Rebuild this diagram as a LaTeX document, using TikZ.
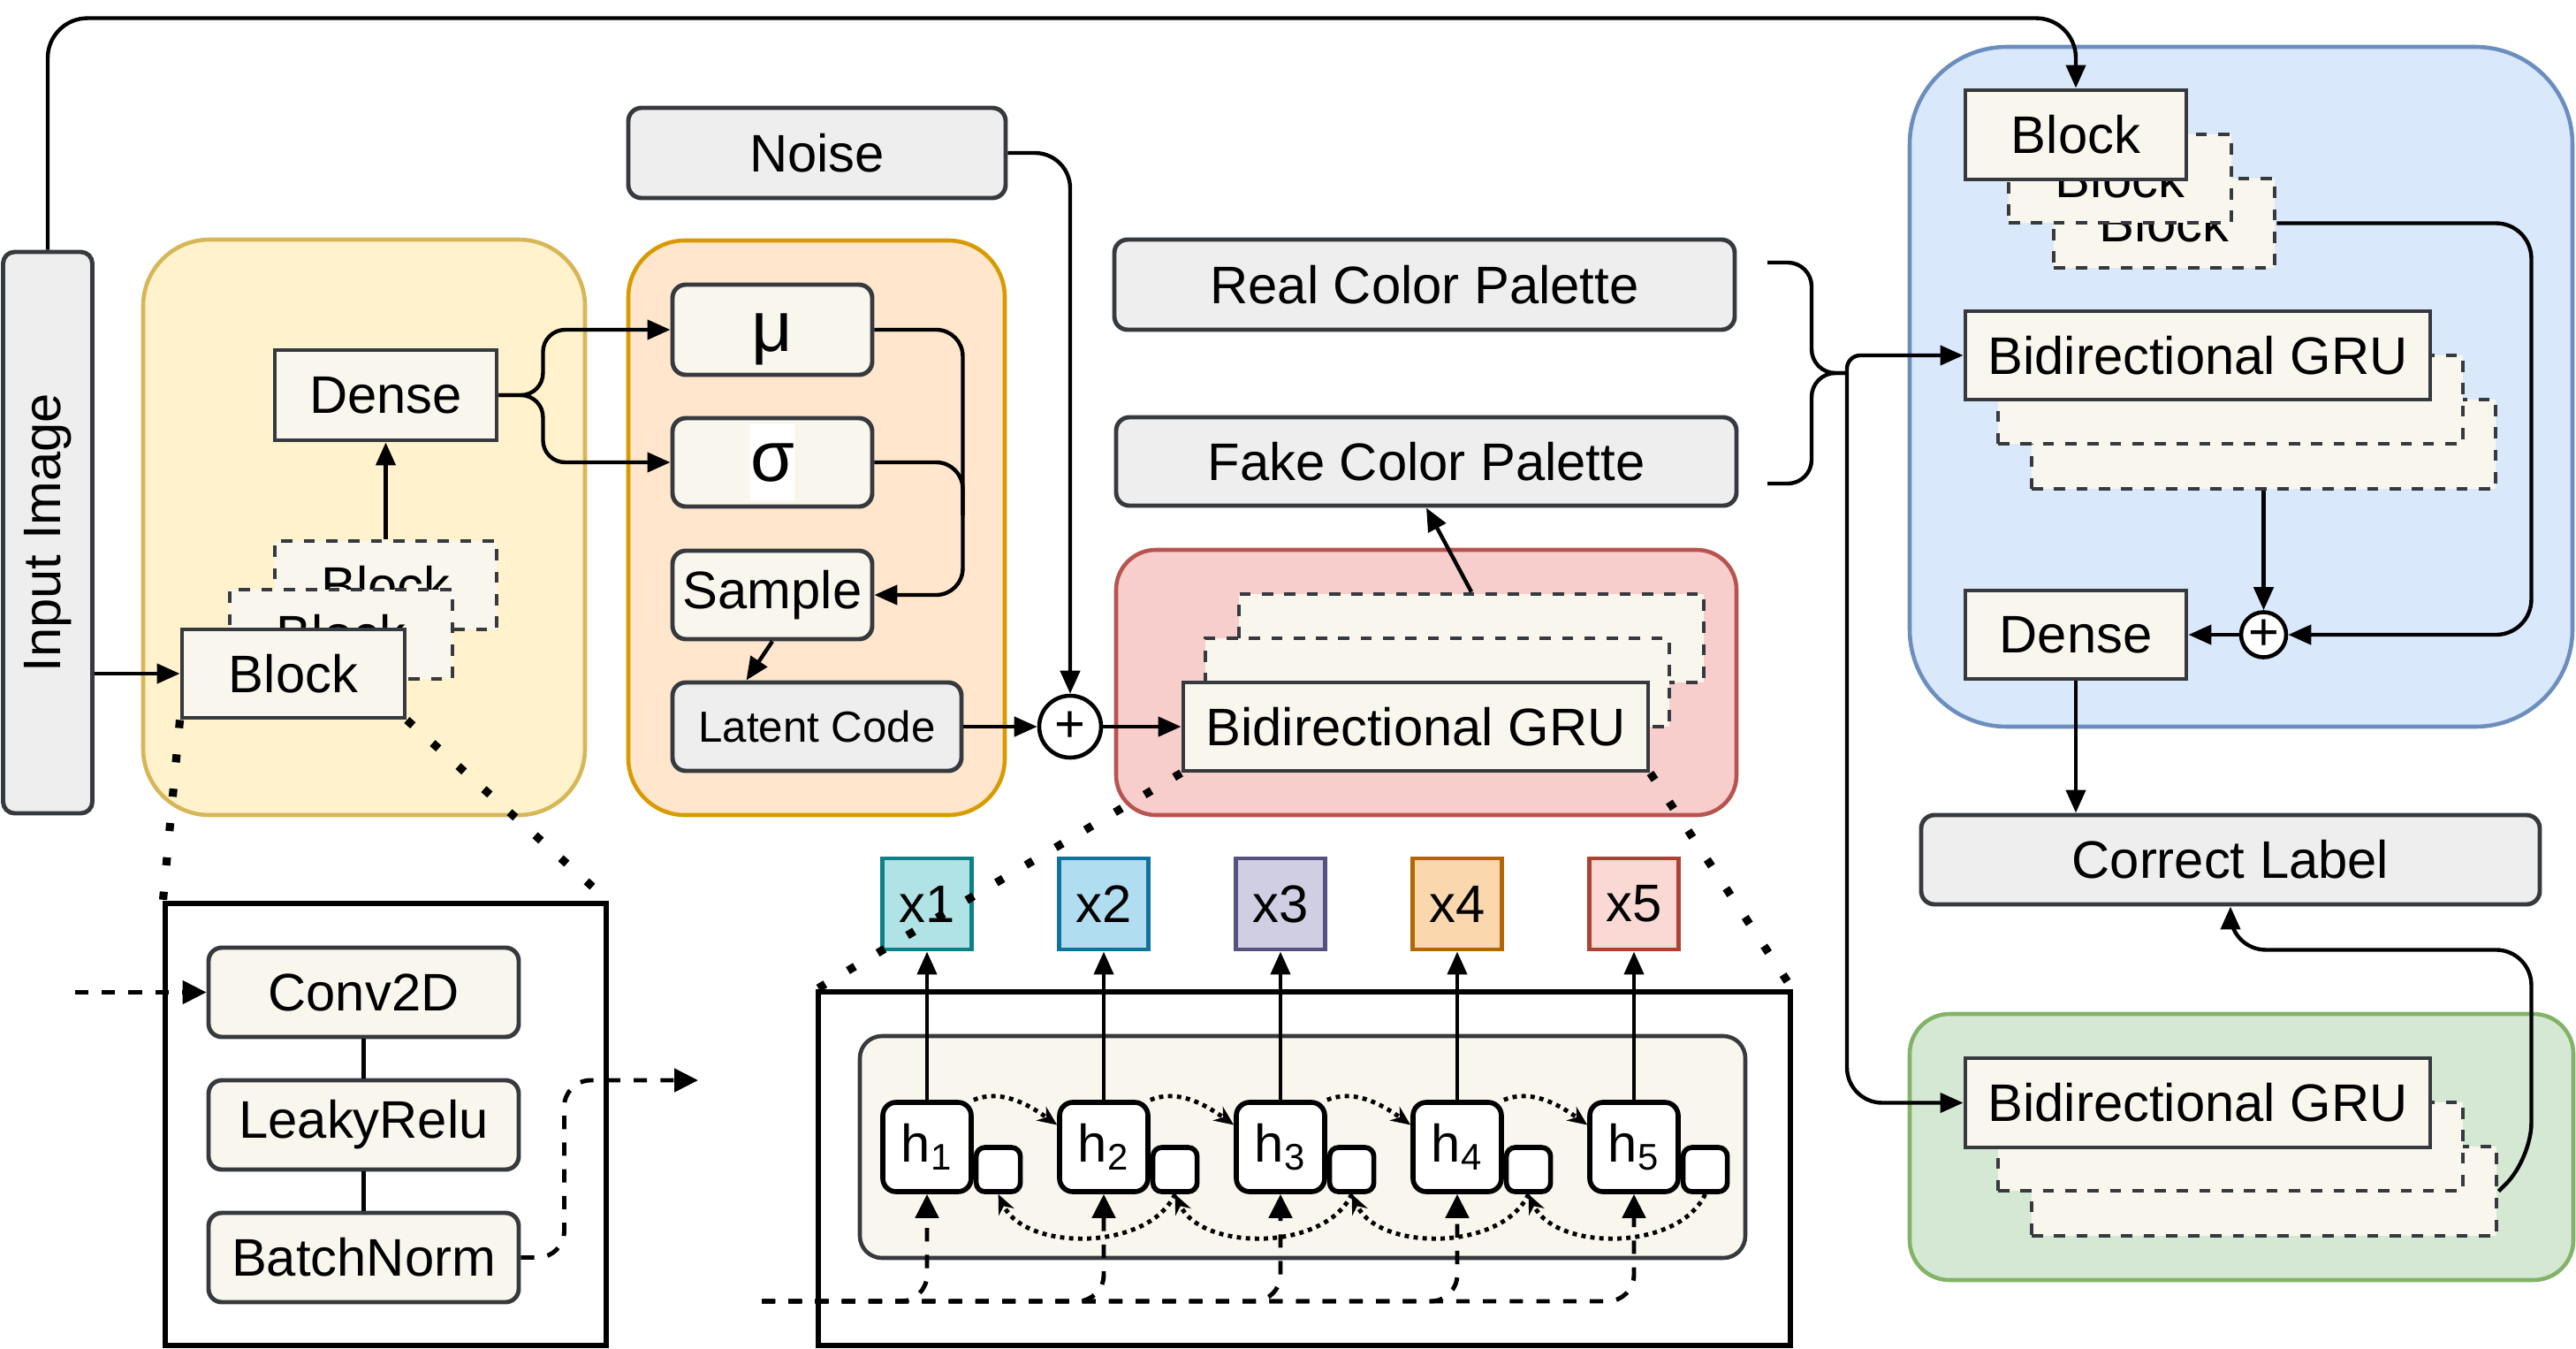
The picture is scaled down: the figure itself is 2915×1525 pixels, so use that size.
\documentclass[tikz,border=0pt]{standalone}
\usepackage{fontspec}
\setmainfont{Liberation Sans}
\usepackage{xcolor}
\usetikzlibrary{arrows.meta,positioning,calc}
\definecolor{edge}{HTML}{36393D}
\definecolor{cream}{HTML}{F9F7ED}
\definecolor{greyF}{HTML}{EEEEEE}
\definecolor{ylwF}{HTML}{FFF2CC}\definecolor{ylwD}{HTML}{D6B656}
\definecolor{orgF}{HTML}{FFE6CC}\definecolor{orgD}{HTML}{D79B00}
\definecolor{redF}{HTML}{F8CECC}\definecolor{redD}{HTML}{B85450}
\definecolor{bluF}{HTML}{DAE8FC}\definecolor{bluD}{HTML}{6C8EBF}
\definecolor{grnF}{HTML}{D5E8D4}\definecolor{grnD}{HTML}{82B366}
\definecolor{xaF}{HTML}{B0E3E6}\definecolor{xaD}{HTML}{0E8088}
\definecolor{xbF}{HTML}{B1DDF0}\definecolor{xbD}{HTML}{10739E}
\definecolor{xcF}{HTML}{D0CEE2}\definecolor{xcD}{HTML}{56517E}
\definecolor{xdF}{HTML}{FAD7AC}\definecolor{xdD}{HTML}{B46504}
\definecolor{xeF}{HTML}{FAD9D5}\definecolor{xeD}{HTML}{AE4132}
\newcommand{\lbl}{\fontsize{17}{20}\selectfont}
\tikzset{
  wh/.style 2 args={minimum width=#1, minimum height=#2},
  cell/.style  ={rectangle, draw=edge, fill=cream, line width=1.4pt, inner sep=0pt,
                 align=center, font=\lbl},
  stk/.style   ={cell, dash pattern=on 3.6pt off 3.6pt},
  rcell/.style ={cell, rounded corners=1.5mm},
  gcell/.style ={rcell, fill=greyF},
  grp/.style   ={rectangle, line width=1.3pt, inner sep=0pt},
  detail/.style={rectangle, draw=black, fill=white, line width=1.5pt, inner sep=0pt},
  hcell/.style ={rectangle, rounded corners=1.5mm, draw=black, fill=white, line width=1.6pt,
                 inner sep=0pt, font=\lbl, minimum width=10mm, minimum height=10.1mm},
  hsq/.style   ={rectangle, rounded corners=1mm, draw=black, fill=white, line width=1.6pt,
                 inner sep=0pt, minimum size=5mm, anchor=south west},
  xcell/.style ={rectangle, line width=1.4pt, inner sep=0pt, font=\lbl,
                 minimum width=10.1mm, minimum height=10.3mm},
  addop/.style ={circle, draw=black, fill=white, line width=1.3pt, inner sep=0pt, font=\lbl},
  ar/.style    ={-{Triangle[length=2.6mm,width=2.2mm]}, line width=1.25pt, draw=black},
  dsh/.style   ={-{Triangle[length=2.7mm,width=2.6mm]}, line width=1.4pt,
                 dash pattern=on 4.3pt off 4.3pt},
  fwd/.style   ={-{Stealth[length=2.2mm,width=1.9mm]}, line width=1.4pt,
                 dash pattern=on 1.4pt off 1.5pt},
  zoomln/.style={line width=2.6pt, dash pattern=on 2.6pt off 8.5pt},
}

\begin{document}
\begin{tikzpicture}[x=0.1mm, y=-0.1mm]
\useasboundingbox (0,0) rectangle (2915,1525);

\node[grp, fill=ylwF, draw=ylwD, rounded corners=7.5mm, wh={50mm}{65.1mm}] (ylwgrp) at (412,596.5) {};
\node[grp, fill=orgF, draw=orgD, rounded corners=6.4mm, wh={42.6mm}{65mm}] (orggrp) at (924,597) {};
\node[grp, fill=redF, draw=redD, rounded corners=4.5mm, wh={70.2mm}{30mm}] (redgrp) at (1614,772) {};
\node[grp, fill=bluF, draw=bluD, rounded corners=11mm, wh={75mm}{76.9mm}] (blugrp) at (2536,437.5) {};
\node[grp, fill=grnF, draw=grnD, rounded corners=4.5mm, wh={75.1mm}{30.1mm}] (grngrp) at (2536.5,1297.5) {};

\node[gcell, rounded corners=1.3mm, wh={10.1mm}{63.5mm}] (input) at (54,602.5) {\rotatebox{90}{Input Image}};
\node[cell, wh={25.1mm}{10.2mm}] (denseA) at (436.5,447) {Dense};
\node[stk, wh={25.1mm}{10mm}] (blkA3) at (436.5,662) {Block};
\node[stk, wh={25.2mm}{10.1mm}] (blkA2) at (386,717.5) {Block};
\node[cell, wh={25.2mm}{10mm}] (blkA1) at (332,762) {Block};

\node[gcell, wh={42.7mm}{10.2mm}] (noise) at (924.5,173) {Noise};
\node[rcell, wh={22.6mm}{10.2mm}, font=\fontsize{23}{26}\selectfont] (mu) at (874,373) {\raisebox{-2.4mm}[0pt][0pt]{μ}};
\node[rcell, wh={22.6mm}{10mm}] (sigma) at (874,523) {\setlength{\fboxsep}{0pt}\colorbox{white}{\fontsize{23}{26}\selectfont\rule[-2.2mm]{0pt}{8.6mm}σ}};
\node[rcell, wh={22.6mm}{10mm}] (sample) at (874,673) {Sample};
\node[gcell, wh={32.7mm}{10mm}, font=\fontsize{14}{17}\selectfont] (latent) at (924.5,822) {Latent Code};
\node[addop, minimum size=7mm] (addA) at (1211,822) {+};

\node[gcell, wh={70.2mm}{10.2mm}] (real) at (1612,322) {Real Color Palette};
\node[gcell, wh={70.2mm}{10mm}] (fake) at (1614,522) {Fake Color Palette};
\node[stk, wh={52.6mm}{10mm}] (gruR3) at (1665,722) {};
\node[stk, wh={52.5mm}{10mm}] (gruR2) at (1626.5,772) {};
\node[cell, wh={52.6mm}{10mm}] (gruR1) at (1602,822) {Bidirectional GRU};

\node[stk, wh={25mm}{10.1mm}] (blkB3) at (2449,252.5) {Block};
\node[stk, wh={25.2mm}{10mm}] (blkB2) at (2399,202) {Block};
\node[cell, wh={25mm}{10.1mm}] (blkB1) at (2349,152.5) {Block};
\node[stk, wh={52.5mm}{10.1mm}] (gruB3) at (2561.5,502.5) {};
\node[stk, wh={52.6mm}{10mm}] (gruB2) at (2524,452) {};
\node[cell, wh={52.6mm}{10mm}] (gruB1) at (2487,402) {Bidirectional GRU};
\node[cell, wh={25mm}{10mm}] (denseB) at (2349,718) {Dense};
\node[addop, minimum size=5.1mm] (addB) at (2561.5,718) {+};
\node[gcell, wh={70mm}{10.1mm}] (clabel) at (2524,972.5) {Correct Label};

\node[stk, wh={52.6mm}{10.1mm}] (gruG3) at (2562,1347.5) {};
\node[stk, wh={52.6mm}{10mm}] (gruG2) at (2524,1297) {};
\node[cell, wh={52.6mm}{10.1mm}] (gruG1) at (2487,1247.5) {Bidirectional GRU};

\node[detail, wh={49.9mm}{50mm}] (detA) at (436.5,1272) {};
\node[rcell, wh={35.1mm}{10.1mm}] (conv) at (411.5,1122.5) {Conv2D};
\node[rcell, wh={35.1mm}{10.1mm}] (leaky) at (411.5,1272.5) {LeakyRelu};
\node[rcell, wh={35.1mm}{10.1mm}] (bnorm) at (411.5,1422.5) {BatchNorm};
\coordinate (cinA) at (85,1122.5);
\coordinate (coutA) at (790,1222);

\node[detail, wh={110mm}{40mm}] (detB) at (1476,1322) {};
\node[rcell, rounded corners=2.5mm, line width=1.3pt, wh={100.2mm}{25.1mm}] (rnn) at (1474,1297.5) {};
\coordinate (inB) at (862,1472);
\foreach \i/\cl in {1/xa,2/xb,3/xc,4/xd,5/xe}{
  \node[hcell] (h\i) at (849+200*\i,1297.5) {h\textsubscript{\i}};
  \node[hsq] (sq\i) at (h\i.south east) {};
  \node[xcell, fill=\cl F, draw=\cl D] (x\i) at (849+200*\i,1022.5) {x\i};
}

\draw[ar, rounded corners=4.5mm] (input.north) -- ++(0,-262) -| (blkB1.north);
\draw[ar] (blkA1.west -| input.east) -- (blkA1.west);
\draw[ar] (blkA3.north) -- (denseA.south);
\draw[ar, rounded corners=2.5mm] (denseA.east) -- ++(50,0) |- (mu.west);
\draw[ar, rounded corners=2.5mm] (denseA.east) -- ++(50,0) |- (sigma.west);
\draw[ar, rounded corners=3mm] (mu.east) -- ++(100,0) |- (sample.east);
\draw[rounded corners=3mm, line width=1.25pt] (sigma.east) -- ++(100,0) -- ++(0,60);
\draw[ar] (sample.south) -- ([xshift=-8mm]latent.north);
\draw[ar, rounded corners=4mm] (noise.east) -| (addA.north);
\draw[ar] (latent.east) -- (addA.west);
\draw[ar] (addA.east) -- (gruR1.west);
\draw[ar] (gruR3.north) -- (fake.south);

\coordinate (brA) at (2000,297);
\coordinate (brB) at (2000,547);
\coordinate (brM) at (2050,422);
\coordinate (split) at (2090,422);
\draw[line width=1.25pt, rounded corners=2.7mm] (brA) -| (brM) -- (split);
\draw[line width=1.25pt, rounded corners=2.7mm] (brB) -| (brM) -- (split);
\draw[ar, rounded corners=1.5mm] (split) |- (gruB1.west);
\draw[ar, rounded corners=4mm] (split) |- (gruG1.west);

\draw[ar] (gruB3.south) -- (addB.north);
\draw[ar, rounded corners=4mm] (blkB3.east) -- ++(288,0) |- (addB.east);
\draw[ar] (addB.west) -- (denseB.east);
\draw[ar] (denseB.south) -- (denseB.south |- clabel.north);
\draw[ar, rounded corners=4mm] (gruG3.east) -- ++(37,-37) |- ([yshift=-4.9mm]clabel.south) -- (clabel.south);

\draw[line width=1.25pt] (conv.south) -- (leaky.north) (leaky.south) -- (bnorm.north);
\draw[dsh] (cinA) -- (conv.west);
\draw[dsh, rounded corners=3mm] (bnorm.east) -- ++(49,0) |- (coutA);

\foreach \i in {1,...,5}{
  \draw[ar] (h\i.north) -- (x\i.south);
  \draw[dsh, rounded corners=3mm] (inB) -| (h\i.south);
}
\foreach \i/\j in {1/2,2/3,3/4,4/5}{
  \draw[fwd] (h\i.north east) .. controls +(30,-12) and +(-35,-25) .. ([yshift=2.5mm]h\j.west);
  \draw[fwd] (sq\j.south) .. controls +(-30,65) and +(30,65) .. (sq\i.south);
}

\draw[zoomln] (blkA1.south west) -- (detA.north west);
\draw[zoomln] (blkA1.south east) -- (detA.north east);
\draw[zoomln] (gruR1.south west) -- (detB.north west);
\draw[zoomln] (gruR1.south east) -- (detB.north east);
\end{tikzpicture}
\end{document}
